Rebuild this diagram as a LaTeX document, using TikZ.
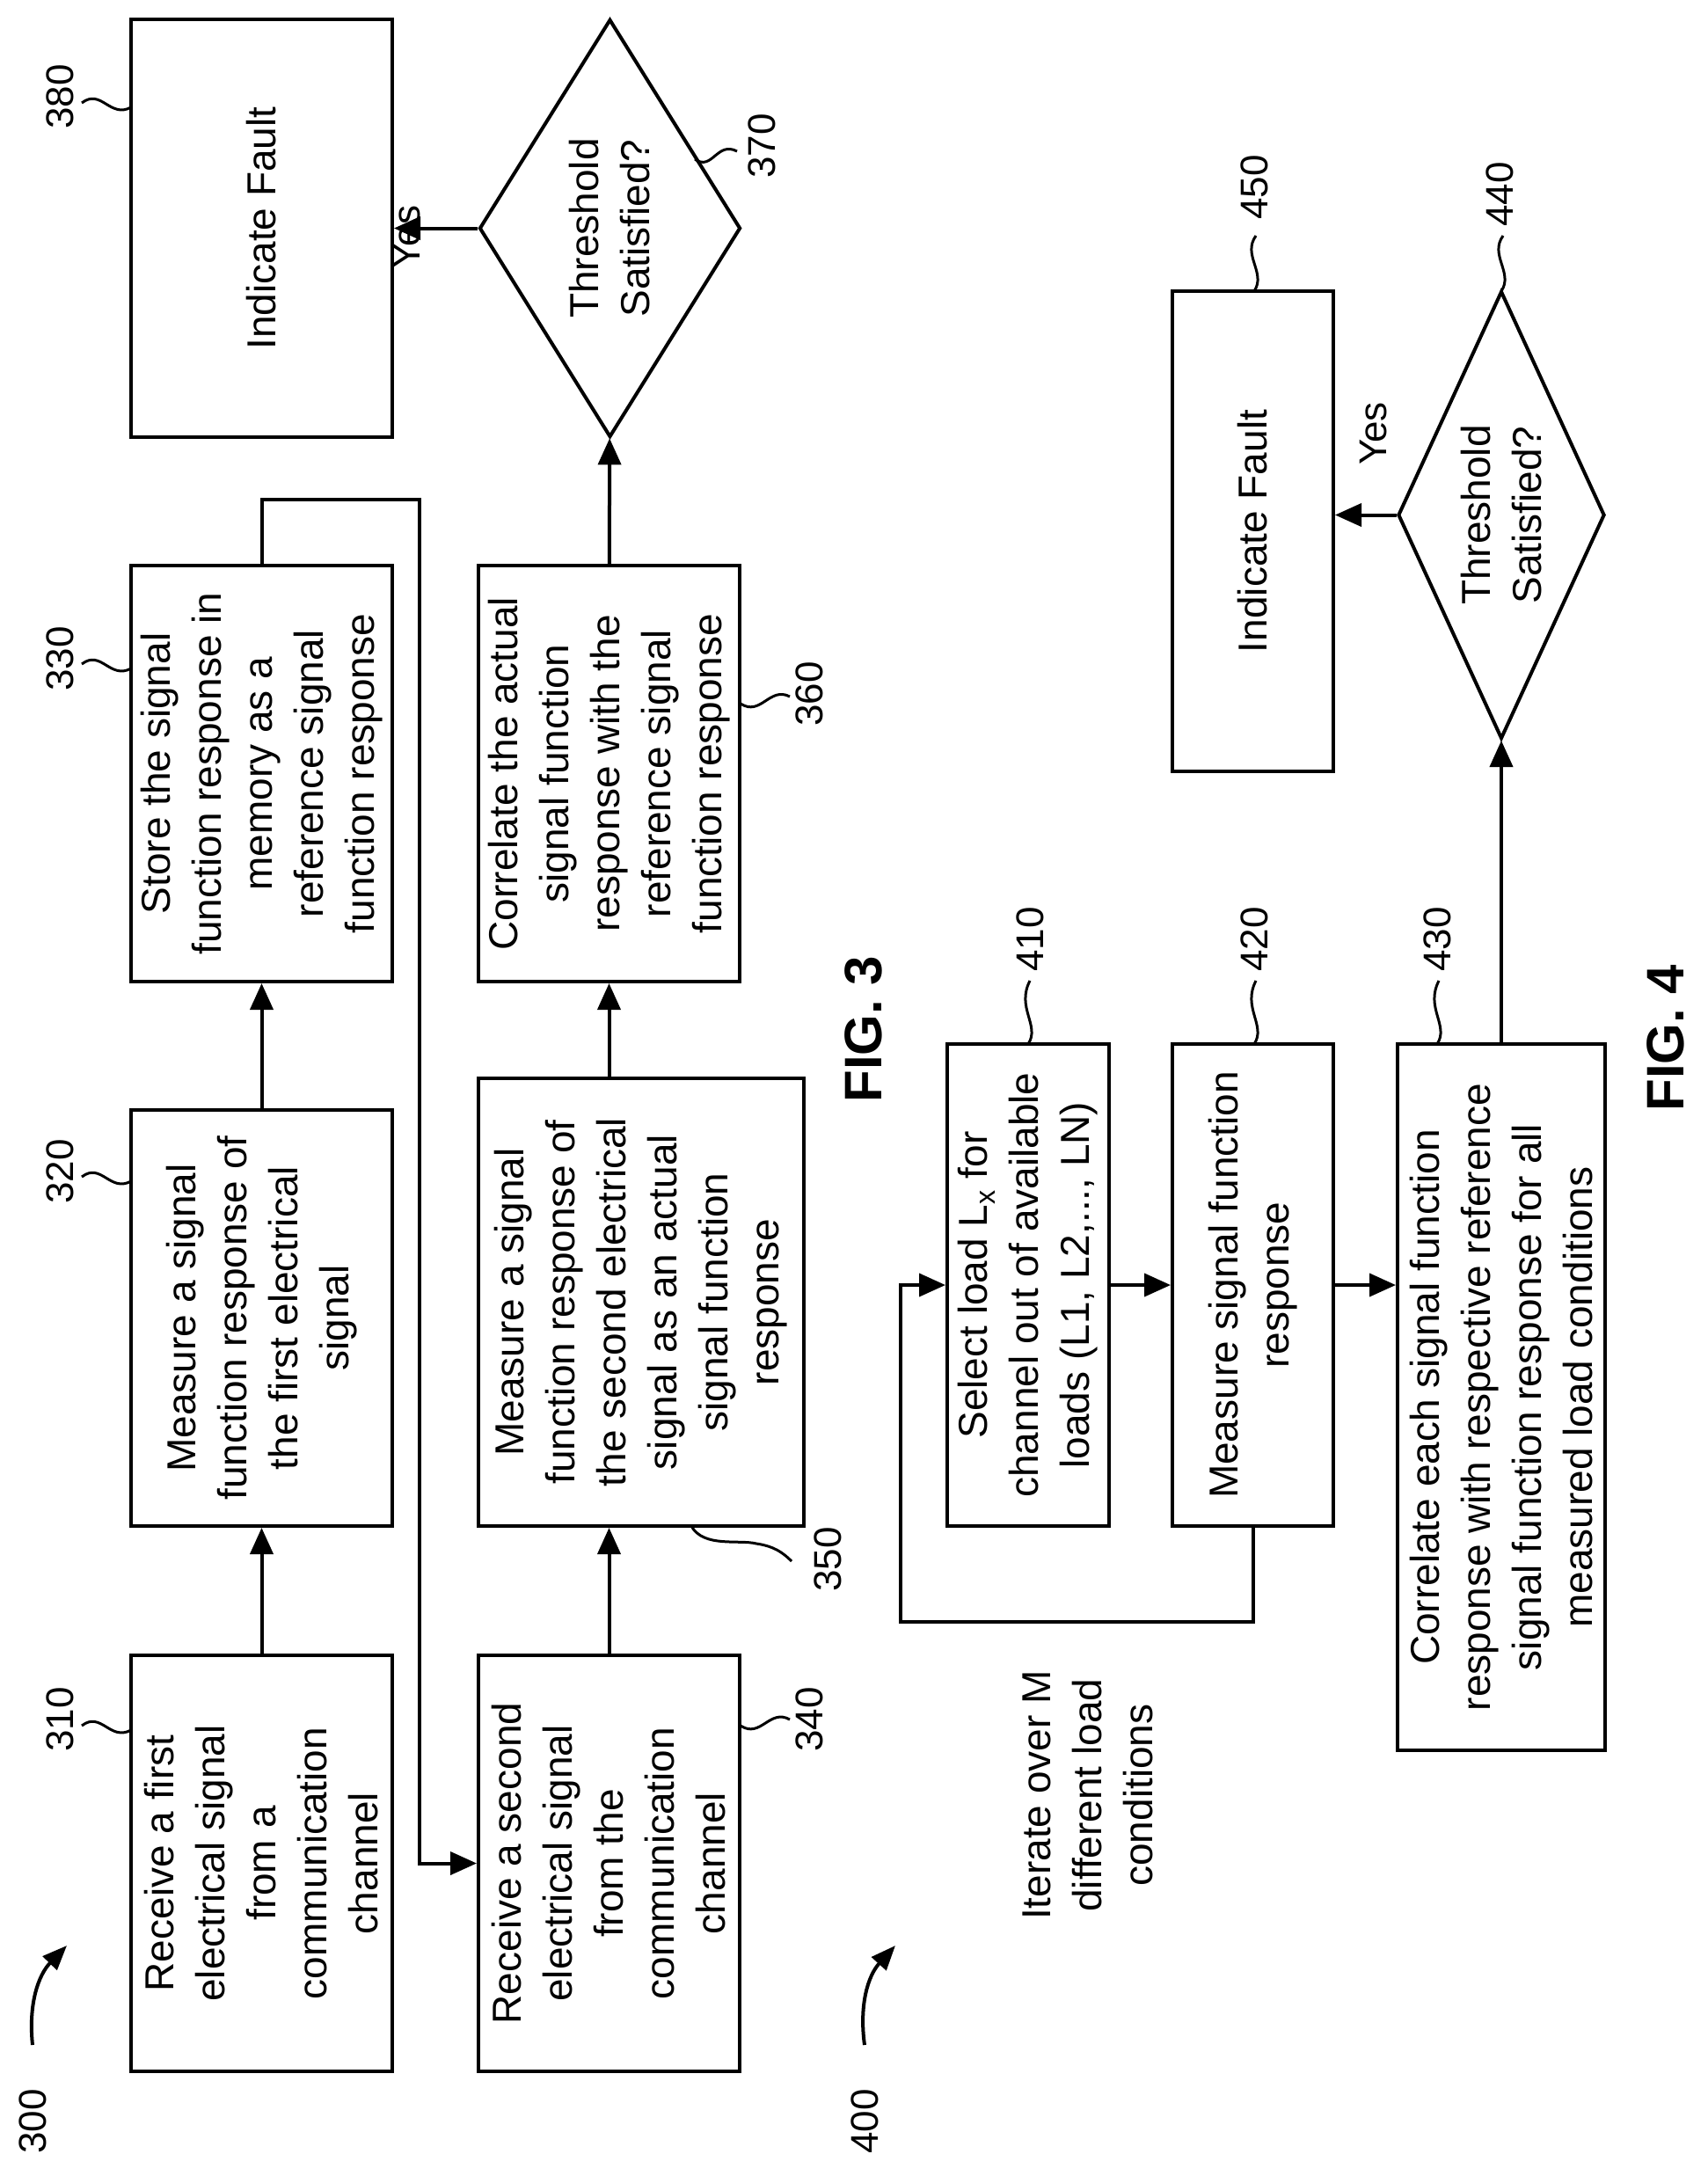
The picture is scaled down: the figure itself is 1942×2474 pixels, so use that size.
\documentclass[tikz,border=0pt]{standalone}
\usepackage{fontspec}
\setmainfont{Liberation Sans}
\usetikzlibrary{shapes.geometric,arrows.meta,calc}
\begin{document}
\begin{tikzpicture}[x=1pt,y=1pt,
  box/.style={draw,line width=4pt,rotate=90,align=center,inner sep=0pt,font=\fontsize{46}{58}\selectfont},
  dia/.style={draw,line width=4pt,rotate=90,align=center,shape=diamond,inner sep=0pt,font=\fontsize{46}{58}\selectfont},
  arr/.style={line width=4pt,-{Triangle[length=30pt,width=26pt]}},
  ln/.style={line width=4pt},
  lead/.style={line width=3pt},
  lbl/.style={rotate=90,inner sep=0pt,font=\fontsize{44}{52}\selectfont},
  fig/.style={rotate=90,inner sep=0pt,font=\fontsize{60}{70}\selectfont\bfseries}]
\useasboundingbox (0,0) rectangle (1942,-2474);
% FIG 3
\node[box,minimum width=473,minimum height=297] (n310) at (297.5,-2118.5) {Receive a first\\electrical signal\\from a\\communication\\channel};
\node[box,minimum width=473,minimum height=297] (n320) at (297.5,-1498.5) {Measure a signal\\function response of\\the first electrical\\signal};
\node[box,minimum width=473,minimum height=297] (n330) at (297.5,-879.5) {Store the signal\\function response in\\memory as a\\reference signal\\function response};
\node[box,minimum width=475,minimum height=297] (n380) at (297.5,-259.5) {Indicate Fault};
\node[box,minimum width=473,minimum height=297] (n340) at (692.5,-2118.5) {Receive a second\\electrical signal\\from the\\communication\\channel};
\node[box,minimum width=509,minimum height=370] (n350) at (729,-1480.5) {Measure a signal\\function response of\\the second electrical\\signal as an actual\\signal function\\response};
\node[box,minimum width=473,minimum height=297] (n360) at (692.5,-879.5) {Correlate the actual\\signal function\\response with the\\reference signal\\function response};
\node[dia,minimum width=475,minimum height=297,aspect=1.6] (n370) at (693.5,-259.5) {Threshold\\Satisfied?};
\draw[arr] (n310) -- (n320);
\draw[arr] (n320) -- (n330);
\draw[arr] (n340) -- (n340 |- n350.west);
\draw[arr] (n360 |- n350.east) -- (n360);
\draw[arr] (n360) -- (n370);
\draw[arr] (n370.north) -- (n370.north -| n380.south) node[pos=0.5,lbl,anchor=north,yshift=50pt,xshift=-10pt] (yes1) {Yes};
\coordinate (l1) at (477,-568);
\draw[arr] (n330.east) |- (l1) |- (n340);
% labels FIG 3
\node[lbl] (t380) at (68,-110) {380};
\node[lbl] (t330) at (68,-749) {330};
\node[lbl] (t320) at (68,-1332) {320};
\node[lbl] (t310) at (68,-1955) {310};
\node[lbl] (t370) at (866,-166) {370};
\node[lbl] (t360) at (920,-789) {360};
\node[lbl] (t340) at (920,-1955) {340};
\node[lbl] (t350) at (941,-1773) {350};
\draw[lead] (93,-117) .. controls (115,-100) and (125,-135) .. (149,-122);
\draw[lead] (93,-755) .. controls (115,-738) and (125,-773) .. (149,-760);
\draw[lead] (93,-1338) .. controls (115,-1321) and (125,-1356) .. (149,-1343);
\draw[lead] (93,-1962) .. controls (115,-1945) and (125,-1980) .. (149,-1967);
\draw[lead] (790,-181) .. controls (810,-195) and (815,-160) .. (838,-172);
\draw[lead] (842,-800) .. controls (865,-815) and (875,-780) .. (898,-792);
\draw[lead] (842,-1962) .. controls (865,-1977) and (875,-1942) .. (898,-1955);
\draw[lead] (786,-1735) .. controls (800,-1760) and (840,-1750) .. (860,-1755) .. controls (880,-1758) and (890,-1765) .. (900,-1775);
\node[lbl] (t300) at (37,-2412) {300};
\draw[line width=4pt,-{Triangle[length=28pt,width=22pt]}] (37,-2325) to[bend left=25] (76,-2212);
\node[fig] (f3) at (982,-1170) {FIG. 3};
% FIG 4
\node[box,minimum width=548,minimum height=184] (n410) at (1169,-1461) {Select load L\textsubscript{x} for\\channel out of available\\loads (L1, L2,..., LN)};
\node[box,minimum width=548,minimum height=183] (n420) at (1424.5,-1461) {Measure signal function\\response};
\node[box,minimum width=803,minimum height=236] (n430) at (1707,-1588.5) {Correlate each signal function\\response with respective reference\\signal function response for all\\measured load conditions};
\node[dia,minimum width=509,minimum height=235,aspect=2.17] (n440) at (1707,-585.5) {Threshold\\Satisfied?};
\node[box,minimum width=546,minimum height=183] (n450) at (1424.5,-604) {Indicate Fault};
\draw[arr] (n410) -- (n420);
\draw[arr] (n420) -- (n420 -| n430.north);
\coordinate (lp) at (1024,-1844);
\draw[arr] (n420.west) |- (lp) |- (n410.north);
\draw[arr] (n430) -- (n440);
\draw[arr] (n440.north) -- (n440.north -| n450.south);
\node[lbl] (yes2) at (1562,-493) {Yes};
\node[lbl] (t450) at (1426,-213) {450};
\node[lbl] (t440) at (1705,-221) {440};
\node[lbl] (t410) at (1171,-1068) {410};
\node[lbl] (t420) at (1426,-1068) {420};
\node[lbl] (t430) at (1634,-1068) {430};
\draw[lead] (1426,-331) .. controls (1440,-310) and (1412,-290) .. (1428,-268);
\draw[lead] (1707,-331) .. controls (1721,-310) and (1693,-290) .. (1709,-268);
\draw[lead] (1169,-1187) .. controls (1183,-1166) and (1155,-1146) .. (1171,-1115);
\draw[lead] (1426,-1187) .. controls (1440,-1166) and (1412,-1146) .. (1428,-1115);
\draw[lead] (1634,-1187) .. controls (1648,-1166) and (1620,-1146) .. (1636,-1115);
\node[box,draw=none] (iter) at (1237,-2041) {Iterate over M\\different load\\conditions};
\node[lbl] (t400) at (983,-2412) {400};
\draw[line width=4pt,-{Triangle[length=28pt,width=22pt]}] (983,-2325) to[bend left=25] (1018,-2212);
\node[fig] (f4) at (1894,-1180) {FIG. 4};
\end{tikzpicture}
\end{document}
